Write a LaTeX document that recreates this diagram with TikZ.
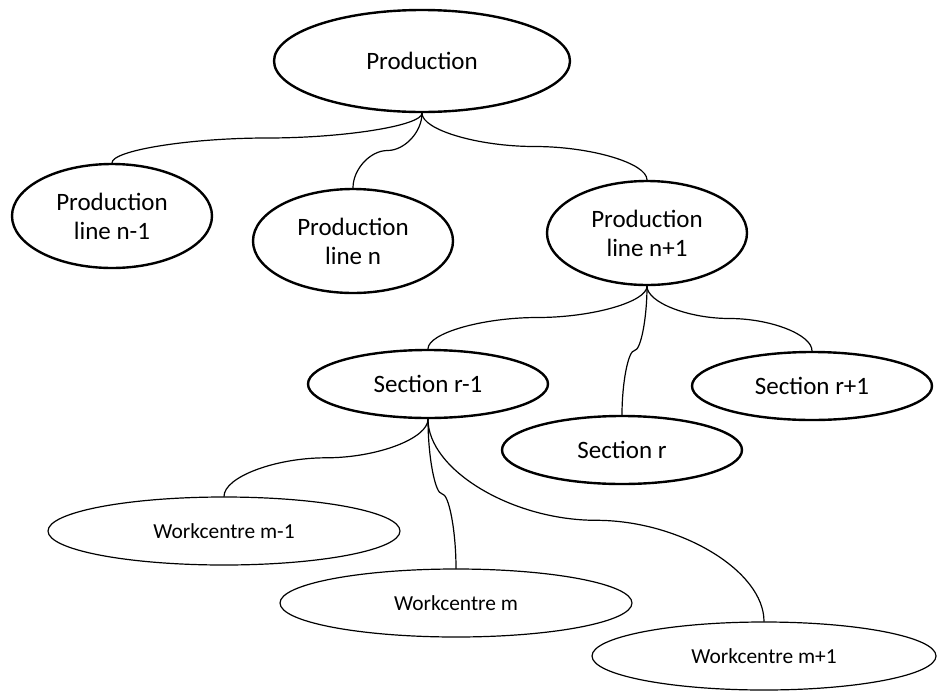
\documentclass[tikz,border=0pt]{standalone}
\usepackage{fontspec}
\setmainfont{Carlito}
\usetikzlibrary{shapes.geometric,calc}

\tikzset{
  unit/.style={ellipse,draw,line width=2.4pt,inner sep=0pt,align=center,
    font=\fontsize{25}{29}\selectfont},
  wcentre/.style={ellipse,draw,line width=1.2pt,inner sep=0pt,
    font=\fontsize{21.4}{25}\selectfont},
  branch/.style={line width=1.2pt}
}

% curved connector from the bottom of #1 to the top of #2
\newcommand{\branch}[2]{%
  \draw[branch] let \p1=(#1.south), \p2=(#2.north),
    \n1={(\x2-\x1)/4}, \n2={(\y2-\y1)/4} in
    (\p1) .. controls (\x1,\y1+\n2) and (\x1+\n1,\y1+2*\n2) .. (\x1+2*\n1,\y1+2*\n2)
          .. controls (\x1+3*\n1,\y1+2*\n2) and (\x2,\y1+3*\n2) .. (\p2);}

\begin{document}
\begin{tikzpicture}[x=1pt,y=1pt,line cap=round,line join=round]
\useasboundingbox (0,0) rectangle (937,-691);
% plant level
\node[unit,minimum width=296pt,minimum height=102pt] (prod) at (422,-61) {Production};
% production lines
\node[unit,minimum width=200pt,minimum height=104pt] (line1) at (112,-216) {Production\\line n-1};
\node[unit,minimum width=200pt,minimum height=104pt] (line2) at (353,-241) {Production\\line n};
\node[unit,minimum width=200pt,minimum height=104pt] (line3) at (647,-233) {Production\\line n+1};
% sections
\node[unit,minimum width=240pt,minimum height=68pt] (sec1) at (428,-384) {Section r-1};
\node[unit,minimum width=240pt,minimum height=68pt] (sec2) at (622,-450) {Section r};
\node[unit,minimum width=240pt,minimum height=68pt] (sec3) at (812,-386) {Section r+1};
% workcentres
\node[wcentre,minimum width=352pt,minimum height=68pt] (wc1) at (224,-531) {Workcentre m-1};
\node[wcentre,minimum width=352pt,minimum height=68pt] (wc2) at (456,-603) {Workcentre m};
\node[wcentre,minimum width=344pt,minimum height=68pt] (wc3) at (764,-656) {Workcentre m+1};

\branch{prod}{line1}
\branch{prod}{line2}
\branch{prod}{line3}
\branch{line3}{sec1}
\branch{line3}{sec2}
\branch{line3}{sec3}
\branch{sec1}{wc1}
\branch{sec1}{wc2}
\branch{sec1}{wc3}
\end{tikzpicture}
\end{document}
